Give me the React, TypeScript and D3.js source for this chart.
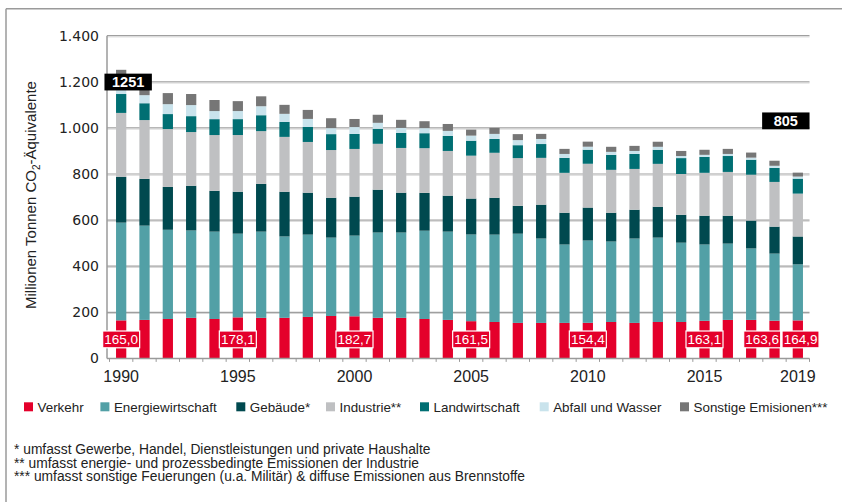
import React from "react";
import * as d3 from "d3";

const years = [1990, 1991, 1992, 1993, 1994, 1995, 1996, 1997, 1998, 1999, 2000, 2001, 2002, 2003, 2004, 2005, 2006, 2007, 2008, 2009, 2010, 2011, 2012, 2013, 2014, 2015, 2016, 2017, 2018, 2019];
const verkehr = [165.0, 167, 171, 176, 171, 178.1, 176, 176, 180, 184, 182.7, 176, 176, 171, 167, 161.5, 158, 154, 154, 154, 154.4, 158, 154, 158, 158, 163.1, 167, 167, 163.6, 164.9];
const energiewirtschaft = [424, 409, 387, 379, 379, 363, 374, 353, 357, 340, 350, 370, 370, 383, 383, 376, 379, 387, 366, 340, 357, 349, 366, 366, 344, 331, 331, 310, 291, 243];
const gebaeude = [199, 203, 186, 194, 177, 182, 207, 194, 182, 173, 169, 186, 173, 164, 156, 156, 160, 121, 147, 138, 143, 125, 125, 134, 121, 125, 121, 121, 117, 121];
const industrie = [277, 255, 251, 233, 242, 246, 229, 238, 220, 207, 207, 199, 194, 194, 194, 186, 195, 207, 203, 173, 190, 186, 177, 186, 177, 186, 190, 199, 194, 186];
const landwirtschaft = [82, 73, 65, 69, 69, 69, 69, 65, 65, 69, 65, 65, 65, 65, 65, 65, 60, 56, 60, 65, 61, 65, 65, 61, 69, 69, 69, 65, 61, 65];
const abfall = [37, 35, 43, 48, 35, 35, 39, 35, 35, 26, 30, 26, 22, 22, 22, 22, 22, 22, 22, 17, 13, 13, 13, 13, 9, 9, 9, 9, 9, 9];
const sonstige = [68, 53, 48, 48, 48, 43, 43, 39, 39, 43, 35, 35, 35, 30, 30, 26, 26, 26, 22, 22, 22, 22, 22, 22, 22, 22, 22, 22, 22, 17];

const seriesNames = ["Verkehr", "Energiewirtschaft", "Gebäude*", "Industrie**", "Landwirtschaft", "Abfall und Wasser", "Sonstige Emisionen***"];
const seriesColors = ["#e4002b", "#52a0a6", "#00494f", "#bfc0c2", "#006f73", "#c9e3ec", "#767676"];
const yTicks = [0, 200, 400, 600, 800, 1000, 1200, 1400];
const xLabelYears = [1990, 1995, 2000, 2005, 2010, 2015, 2019];
const valueLabelYears = [1990, 1995, 2000, 2005, 2010, 2015, 2018, 2019];
const totalLabelYears = [1990, 2019];
const totals = [1251, 805];
const footnotes = [
  "* umfasst Gewerbe, Handel, Dienstleistungen und private Haushalte",
  "** umfasst energie- und prozessbedingte Emissionen der Industrie",
  "*** umfasst sonstige Feuerungen (u.a. Militär) & diffuse Emissionen aus Brennstoffe",
];

const W = 842;
const H = 502;
const FONT = "'Liberation Sans', Arial, sans-serif";
const keys = ["verkehr", "energie", "gebaeude", "industrie", "landwirtschaft", "abfall", "sonstige"];

export default function App() {
  const table = years.map((y, i) => ({
    year: y,
    verkehr: verkehr[i],
    energie: energiewirtschaft[i],
    gebaeude: gebaeude[i],
    industrie: industrie[i],
    landwirtschaft: landwirtschaft[i],
    abfall: abfall[i],
    sonstige: sonstige[i],
  }));
  const stacked = d3.stack<any>().keys(keys)(table);

  const x = d3.scaleBand<number>().domain(years).range([109.5, 809.5]).paddingInner(0.56).paddingOuter(0.28);
  const step = x.step();
  const y = d3.scaleLinear().domain([0, 1400]).range([358.4, 35.7]);
  const axisLeft = 107;
  const axisRight = 809.5;
  const fmt = (v: number) => d3.format(".1f")(v).replace(".", ",");
  const fmtTick = (v: number) => d3.format(",")(v).replace(/,/g, ".");
  const cx = (yr: number) => (x(yr) as number) + x.bandwidth() / 2;

  const labelDx: Record<number, number> = { 2018: -12.3, 2019: 2.7 };
  const totalDx = [7, -12];
  const totalDy = [12, -52];

  const legendX = [24, 100.4, 236.3, 326, 420, 539.7, 680];

  return (
    <div style={{ position: "absolute", left: 0, top: 0 }}>
      <svg width={W} height={H} style={{ display: "block", fontFamily: FONT }}>
        <rect width={W} height={H} fill="#fff" />
        {/* frame */}
        <line x1={6} y1={8.7} x2={W} y2={8.7} stroke="#9a9a9a" strokeWidth={1.5} />
        <line x1={6} y1={8.7} x2={6} y2={H} stroke="#9a9a9a" strokeWidth={1.5} />

        {/* grid */}
        {yTicks.filter((t) => t > 0).map((t) => (
          <g key={t}>
            <line x1={axisLeft} x2={axisRight} y1={y(t)} y2={y(t)} stroke="#9f9f9f" strokeWidth={1.2} />
            <line x1={axisLeft} x2={axisRight} y1={y(t) + 1.2} y2={y(t) + 1.2} stroke="#d6d6d6" strokeWidth={1} />
          </g>
        ))}
        {yTicks.map((t) => (
          <text key={"yl" + t} x={99} y={y(t)} dy="0.36em" textAnchor="end" fontSize={14} fill="#222" fontFamily="'DejaVu Sans', sans-serif">
            {fmtTick(t)}
          </text>
        ))}
        <line x1={axisLeft} x2={axisLeft} y1={y(1400)} y2={y(0)} stroke="#9a9a9a" strokeWidth={1.5} />

        {/* bars */}
        {stacked.map((s, si) => (
          <g key={s.key} fill={seriesColors[si]}>
            {s.map((d: any) => (
              <rect key={d.data.year} x={x(d.data.year)} width={x.bandwidth()} y={y(d[1])} height={y(d[0]) - y(d[1])} />
            ))}
          </g>
        ))}

        {/* x axis */}
        <line x1={axisLeft} x2={axisRight} y1={y(0)} y2={y(0)} stroke="#9a9a9a" strokeWidth={1.5} />
        {years.map((yr) => (
          <line key={"xt" + yr} x1={cx(yr) - step / 2} x2={cx(yr) - step / 2} y1={y(0)} y2={y(0) + 3.5} stroke="#9a9a9a" strokeWidth={1} />
        ))}
        <line x1={axisRight} x2={axisRight} y1={y(0)} y2={y(0) + 3.5} stroke="#9a9a9a" strokeWidth={1} />
        {xLabelYears.map((yr) => (
          <text key={"xl" + yr} x={cx(yr)} y={381.5} textAnchor="middle" fontSize={16} fill="#222">
            {yr}
          </text>
        ))}

        {/* y title */}
        <text transform={`translate(36,${y(700) - 2}) rotate(-90)`} textAnchor="middle" fontSize={15} fill="#222">
          Millionen Tonnen CO<tspan fontSize={10} dy={4}>2</tspan><tspan dy={-4}>-Äquivalente</tspan>
        </text>

        {/* Verkehr labels */}
        {valueLabelYears.map((yr) => {
          const i = years.indexOf(yr);
          const lx = cx(yr) + (labelDx[yr] || 0);
          return (
            <g key={"vl" + yr}>
              <rect x={lx - 18.5} y={331} width={37} height={16.8} fill="#e4002b" stroke="#fff" strokeWidth={1.2} />
              <text x={lx} y={339.6} dy="0.36em" textAnchor="middle" fontSize={13.5} fill="#fff">
                {fmt(verkehr[i])}
              </text>
            </g>
          );
        })}

        {/* total labels */}
        {totalLabelYears.map((yr, k) => {
          const lx = cx(yr) + totalDx[k];
          const ly = y(totals[k]) + totalDy[k];
          return (
            <g key={"tl" + yr}>
              <rect x={lx - 23.7} y={ly - 8.4} width={47.4} height={16.8} fill="#000" />
              <text x={lx} y={ly} dy="0.36em" textAnchor="middle" fontSize={14.5} fontWeight={600} fill="#fff">
                {totals[k]}
              </text>
            </g>
          );
        })}

        {/* legend */}
        {seriesNames.map((n, i) => (
          <g key={n}>
            <rect x={legendX[i]} y={402.3} width={9} height={9} fill={seriesColors[i]} />
            <text x={legendX[i] + 13.5} y={406.8} dy="0.36em" fontSize={13.4} fill="#222">
              {n}
            </text>
          </g>
        ))}

        {/* footnotes */}
        {footnotes.map((f, i) => (
          <text key={i} x={14} y={449.3 + i * 13.5} dy="0.36em" fontSize={13.8} fill="#222">
            {f}
          </text>
        ))}
      </svg>
    </div>
  );
}
